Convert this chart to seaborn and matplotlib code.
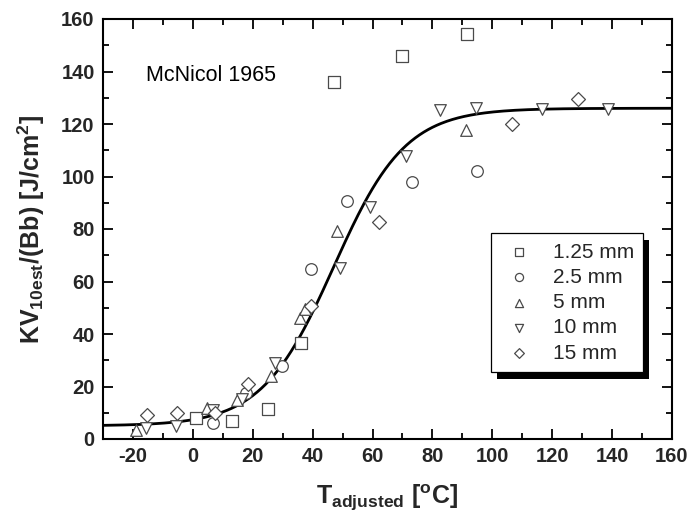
import numpy as np
import pandas as pd
import matplotlib
matplotlib.use("Agg")
import matplotlib.pyplot as plt
from matplotlib.patches import Rectangle
from matplotlib.ticker import MultipleLocator
import seaborn as sns

# ---- data ----
sq_T = [47, 70, 91.7, 36, 25, 13, 1]
sq_KV = [136, 146, 154.3, 36.7, 11.5, 7, 8]

ci_T = [51.5, 73.3, 94.8, 39.6, 29.8, 17.8, 6.8]
ci_KV = [90.7, 97.9, 102, 64.6, 28, 17.5, 6.1]

up_T = [48.2, 91.1, 35.9, 26.2, 14.8, 4.8, -19, 37.5]
up_KV = [79.3, 117.7, 46, 24, 15, 12, 3.4, 49.5]

dn_T = [59.3, 82.4, 94.4, 116.5, 138.6, 71.3, 49.3, 27.5, 16.5, 6.8, -5.6, -15.6]
dn_KV = [88.2, 125.3, 126, 125.7, 125.7, 108, 65.3, 28.9, 15.2, 10.9, 5, 4.3]

di_T = [62.3, 128.5, 106.5, 39.6, 18.5, 7.5, -5.3, -15.3]
di_KV = [82.8, 129.6, 120, 50.8, 21, 10, 10, 9]

series_labels = ["1.25 mm", "2.5 mm", "5 mm", "10 mm", "15 mm"]
series_markers = ["s", "o", "^", "v", "D"]

# tanh fit parameters (lower shelf, upper shelf, transition temperature, width)
fit_lower = 5.0
fit_upper = 126.0
fit_T0 = 47.0
fit_C = 24.0

x_ticks = [-20, 0, 20, 40, 60, 80, 100, 120, 140, 160]
y_ticks = [0, 20, 40, 60, 80, 100, 120, 140, 160]

# ---- styling ----
sns.set_theme(style="ticks")
plt.rcParams["font.family"] = ["Liberation Sans", "DejaVu Sans"]
plt.rcParams["axes.unicode_minus"] = False
plt.rcParams["mathtext.fontset"] = "custom"
plt.rcParams["mathtext.rm"] = "Liberation Sans:bold"
plt.rcParams["mathtext.bf"] = "Liberation Sans:bold"
plt.rcParams["mathtext.it"] = "Liberation Sans:bold"

fig = plt.figure(figsize=(6.89, 5.16), dpi=100)
ax = fig.add_axes([103 / 689, 1 - 439 / 516, (672 - 103) / 689, (439 - 19) / 516])

frames = []
for T, KV, lab in zip([sq_T, ci_T, up_T, dn_T, di_T],
                      [sq_KV, ci_KV, up_KV, dn_KV, di_KV], series_labels):
    frames.append(pd.DataFrame({"T": T, "KV": KV, "size": lab}))
df = pd.concat(frames, ignore_index=True)

# fit curve
Tc = np.linspace(-30, 160, 400)
KVc = fit_lower + (fit_upper - fit_lower) / 2 * (1 + np.tanh((Tc - fit_T0) / fit_C))
sns.lineplot(x=Tc, y=KVc, ax=ax, color="black", lw=2.0, zorder=2)

edge = "#4a4a4a"
for lab, mk in zip(series_labels, series_markers):
    sub = df[df["size"] == lab]
    s = 70 if mk != "D" else 50
    ax.scatter(sub["T"], sub["KV"], marker=mk, s=s, facecolors="white",
               edgecolors=edge, linewidths=0.9, label=lab, zorder=3)

ax.set_xlim(-30, 160)
ax.set_ylim(0, 160)
ax.set_xticks(x_ticks)
ax.set_yticks(y_ticks)
ax.xaxis.set_minor_locator(MultipleLocator(10))
ax.yaxis.set_minor_locator(MultipleLocator(10))
ax.tick_params(which="both", direction="in", top=True, right=True, width=1.3, color="black")
ax.tick_params(which="major", length=7, labelsize=14.5, pad=6)
ax.tick_params(which="minor", length=4)
for lbl in ax.get_xticklabels() + ax.get_yticklabels():
    lbl.set_fontweight("bold")
for sp in ax.spines.values():
    sp.set_linewidth(1.5)
    sp.set_color("black")
ax.grid(False)

ax.set_xlabel(r"T$_{\mathbf{adjusted}}$ [$^{\mathbf{o}}$C]", fontsize=18, fontweight="bold", labelpad=12)
ax.set_ylabel(r"KV$_{\mathbf{10est}}$/(Bb) [J/cm$^{\mathbf{2}}$]", fontsize=18, fontweight="bold", labelpad=10)

ax.text(-15.6, 138.3, "McNicol 1965", fontsize=15.5, va="center", ha="left", color="black")

leg = ax.legend(loc="upper left", bbox_to_anchor=(0.682, 0.49), frameon=True,
                fontsize=15, markerscale=0.7, handletextpad=0.7, borderpad=0.45,
                labelspacing=0.3, handlelength=1.8, fancybox=False, borderaxespad=0)
leg.get_frame().set_edgecolor("black")
leg.get_frame().set_linewidth(0.9)
leg.get_frame().set_alpha(1)
leg.set_zorder(6)

fig.canvas.draw()
bb = leg.get_window_extent().transformed(fig.transFigure.inverted())
dx, dy = 6 / 689, -7 / 516
shadow = Rectangle((bb.x0 + dx, bb.y0 + dy), bb.width, bb.height,
                   transform=fig.transFigure, facecolor="black",
                   edgecolor="none", zorder=5, clip_on=False)
ax.add_patch(shadow)

fig.savefig("out.png", dpi=100)
